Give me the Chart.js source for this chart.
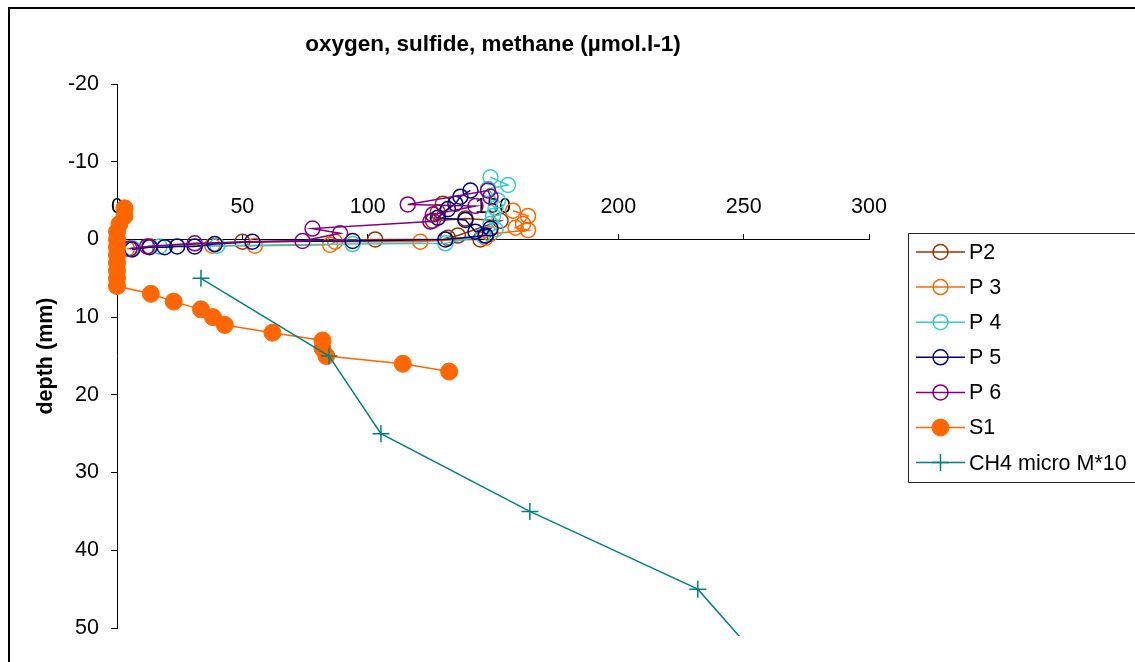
<!DOCTYPE html>
<html>
<head>
<meta charset="utf-8">
<script src="https://cdn.jsdelivr.net/npm/chart.js@4/dist/chart.umd.min.js"></script>
<style>
  html, body { margin: 0; padding: 0; background: #fff; overflow: hidden; }
  #frame { position: absolute; left: 8px; top: 7px; width: 2000px; height: 2000px;
           border-left: 2px solid #000; border-top: 2px solid #000; }
  #chart { position: absolute; left: 0; top: 0; }
</style>
</head>
<body>
<div id="frame"></div>
<canvas id="chart" width="1135" height="662"></canvas>
<script>
// values: x = concentration (µmol/l), y = depth (mm)
var xTicks = [0, 50, 100, 150, 200, 250, 300];
var depthTicks = [-20, -10, 0, 10, 20, 30, 40, 50];

var p2X     = [130, 128, 126, 139, 153, 136, 132, 145, 103, 50, 13, 6];
var p2Depth = [-4.6, -3.5, -2.4, -2.7, -2.4, -0.5, -0.2, 0, 0, 0.3, 0.9, 1.2];

var p3X     = [158, 164, 162, 159, 164, 149, 147, 121, 87, 85, 55, 38, 13, 4];
var p3Depth = [-3.7, -3, -2, -1.5, -1.2, -0.7, -0.2, 0.3, 0.3, 0.7, 0.8, 0.8, 0.9, 1.2];

var p4X     = [149, 156, 148, 152, 151, 150, 149, 151, 146, 131, 94, 40, 17, 6];
var p4Depth = [-8, -7, -6.5, -5, -4, -3, -2, -1.3, -0.5, 0.5, 0.6, 0.8, 0.9, 1.1];

var p5X     = [141, 137, 135, 132, 128, 139, 143, 149, 147, 131, 94, 54, 39, 31, 24, 19, 13, 6];
var p5Depth = [-6.3, -5.5, -4.6, -3.9, -2.8, -2.5, -1.0, -1.4, -0.5, 0, 0.2, 0.3, 0.6, 0.9, 0.9, 1, 1, 1.3];

var p6X     = [149, 148, 116, 143, 126, 125, 78, 89, 74, 31, 12, 5];
var p6Depth = [-5.5, -6.3, -4.5, -4.3, -3.2, -2.3, -1.4, -0.8, 0.2, 0.5, 0.9, 1.2];

var s1X     = [3, 3, 1, 0, 0, 0, 0, 0, 0, 0, 0, 13.5, 22.6, 33.5, 38.3, 43, 62, 82, 82, 83.5, 114, 132.5];
var s1Depth = [-4, -3, -2, -1, 0, 1, 2, 3, 4, 5, 6, 7, 8, 9, 10, 11, 12, 13, 14, 15, 16, 17];

var ch4X     = [33.5, 84.6, 105.3, 164.7, 231.7, 259];
var ch4Depth = [5, 15, 25, 35, 45, 55];

var FONT = '"Liberation Sans", Arial, sans-serif';
var FS = 21.5;

function pts(xs, ys) {
  return xs.map(function (x, i) { return { x: x, y: ys[i] }; });
}

function openSeries(label, color, xs, ys, order) {
  return {
    label: label,
    data: pts(xs, ys),
    showLine: true,
    borderColor: color,
    borderWidth: 1.5,
    pointStyle: 'circle',
    pointRadius: 7.5,
    pointBorderColor: color,
    pointBorderWidth: 1.5,
    pointBackgroundColor: 'rgba(0,0,0,0)',
    clip: false,
    order: order
  };
}

var datasets = [
  openSeries('P2', '#993300', p2X, p2Depth, 7),
  openSeries('P 3', '#FF6600', p3X, p3Depth, 6),
  openSeries('P 4', '#33CCCC', p4X, p4Depth, 5),
  openSeries('P 5', '#000080', p5X, p5Depth, 4),
  openSeries('P 6', '#800080', p6X, p6Depth, 3),
  {
    label: 'S1',
    data: pts(s1X, s1Depth),
    showLine: true,
    borderColor: '#FF6600',
    borderWidth: 1.5,
    pointStyle: 'circle',
    pointRadius: 8.5,
    pointBorderColor: '#FF6600',
    pointBorderWidth: 1,
    pointBackgroundColor: '#FF6600',
    clip: false,
    order: 2
  },
  {
    label: 'CH4 micro M*10',
    data: pts(ch4X, ch4Depth),
    showLine: true,
    borderColor: '#008080',
    borderWidth: 1.5,
    pointStyle: 'cross',
    pointRadius: 8.5,
    pointBorderColor: '#008080',
    pointBorderWidth: 1.5,
    pointBackgroundColor: '#008080',
    clip: { left: 10, top: 0, right: 0, bottom: 8 },
    order: 1
  }
];

var chartTitle = 'oxygen, sulfide, methane (µmol.l-1)';

var extrasPlugin = {
  id: 'extras',
  afterDraw: function (chart) {
    var ctx = chart.ctx;
    var ca = chart.chartArea;
    ctx.save();
    // title centred over the plot area
    ctx.fillStyle = '#000';
    ctx.font = 'bold 22.5px ' + FONT;
    ctx.textAlign = 'center';
    ctx.textBaseline = 'middle';
    ctx.fillText(chartTitle, (ca.left + ca.right) / 2, 45);

    // legend with line + marker samples
    var lx = 908.5, ly = 233.5;
    ctx.strokeStyle = '#222';
    ctx.lineWidth = 1;
    ctx.beginPath();
    ctx.moveTo(1140, ly);
    ctx.lineTo(lx, ly);
    ctx.lineTo(lx, 482.5);
    ctx.lineTo(1140, 482.5);
    ctx.stroke();

    ctx.font = FS + 'px ' + FONT;
    ctx.textAlign = 'left';
    chart.data.datasets.forEach(function (ds, i) {
      var y = 252 + i * 35.1;
      ctx.strokeStyle = ds.borderColor;
      ctx.lineWidth = ds.borderWidth;
      ctx.beginPath();
      ctx.moveTo(916, y);
      ctx.lineTo(965, y);
      ctx.stroke();
      ctx.strokeStyle = ds.pointBorderColor;
      ctx.fillStyle = ds.pointBackgroundColor;
      ctx.lineWidth = ds.pointBorderWidth;
      Chart.helpers.drawPoint(ctx, {
        pointStyle: ds.pointStyle,
        radius: ds.pointRadius,
        rotation: 0,
        borderWidth: ds.pointBorderWidth
      }, 940.5, y);
      ctx.fillStyle = '#000';
      ctx.fillText(ds.label, 969, y + 1);
    });
    ctx.restore();
  }
};

new Chart(document.getElementById('chart'), {
  type: 'scatter',
  data: { datasets: datasets },
  options: {
    animation: false,
    responsive: false,
    devicePixelRatio: 1,
    layout: { padding: { left: 0, top: 84, right: 266, bottom: 34 } },
    plugins: {
      legend: { display: false },
      title: { display: false },
      tooltip: { enabled: false }
    },
    scales: {
      x: {
        type: 'linear',
        min: 0,
        max: 300,
        position: { y: 0 },
        afterBuildTicks: function (scale) {
          scale.ticks = xTicks.map(function (v) { return { value: v }; });
        },
        ticks: {
          color: '#000',
          font: { family: FONT, size: FS },
          padding: -39,
          maxRotation: 0
        },
        grid: { drawOnChartArea: false, drawTicks: true, tickLength: -6, color: '#000' },
        border: { color: '#000', width: 1 },
        afterFit: function (scale) { scale.height = 0; }
      },
      y: {
        type: 'linear',
        reverse: true,
        min: -20,
        max: 50,
        position: 'left',
        afterBuildTicks: function (scale) {
          scale.ticks = depthTicks.map(function (v) { return { value: v }; });
        },
        ticks: {
          color: '#000',
          font: { family: FONT, size: FS },
          padding: 12
        },
        grid: { drawOnChartArea: false, drawTicks: true, tickLength: 6, color: '#000' },
        border: { color: '#000', width: 1 },
        title: {
          display: true,
          text: 'depth (mm)',
          color: '#000',
          font: { family: FONT, size: FS, weight: 'bold' },
          padding: { top: 33, bottom: 0 }
        },
        afterFit: function (scale) { scale.width = 117; }
      }
    }
  },
  plugins: [extrasPlugin]
});
</script>
</body>
</html>
